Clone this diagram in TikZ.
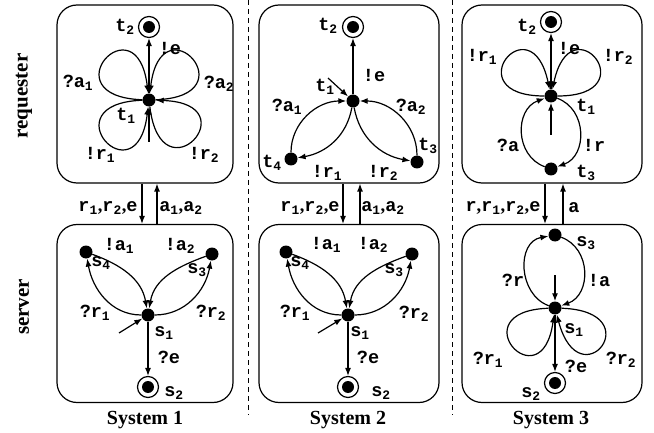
\documentclass[tikz,border=0pt]{standalone}
\usepackage{fontspec}
\setmainfont{Liberation Serif}
\setmonofont{Liberation Mono}
\usetikzlibrary{arrows.meta}
\newcommand{\lsub}[1]{\textsubscript{#1}}
\newcommand{\cm}{{\rmfamily,}}
\tikzset{state/.style={circle,fill=black,inner sep=0pt,minimum size=13pt},
  final/.style={circle,draw=black,line width=1.2pt,fill=white,inner sep=0pt,minimum size=21pt,
    path picture={\fill[black] (path picture bounding box.center) circle (6pt);}},
  box/.style={draw=black,line width=1.2pt,rounded corners=20pt,inner sep=0pt,minimum height=178pt},
  trans/.style={-{Latex[length=8pt,width=6pt]},line width=1.2pt},
  lbl/.style={font=\fontsize{18.5}{21}\selectfont\ttfamily\bfseries,inner sep=0pt},
  title/.style={font=\fontsize{20}{23}\selectfont\bfseries,inner sep=0pt},
  sep/.style={dash pattern=on 5pt off 4pt,line width=0.9pt}}

\begin{document}
\begin{tikzpicture}[x=1pt,y=1pt]
  \useasboundingbox (0,0) rectangle (654,432);
  % frames
  \node[box,minimum width=176pt] (req1) at (145,338) {};
  \node[box,minimum width=176pt] (srv1) at (145,118.5) {};
  \node[box,minimum width=180pt] (req2) at (349,338) {};
  \node[box,minimum width=180pt] (srv2) at (349,118.5) {};
  \node[box,minimum width=180pt] (req3) at (552,338) {};
  \node[box,minimum width=180pt] (srv3) at (552,118.5) {};
  \draw[sep] (248,432) -- (248,17);
  \draw[sep] (452,432) -- (452,17);
  \node[title,rotate=90,font=\fontsize{21}{24}\selectfont\bfseries] (reqname) at (24,336) {requester};
  \node[title,rotate=90,font=\fontsize{21}{24}\selectfont\bfseries] (srvname) at (24,125) {server};
  \node[title] (sys1) at (145,12) {System 1};
  \node[title] (sys2) at (348,12) {System 2};
  \node[title] (sys3) at (551,12) {System 3};

  % channels
  \draw[trans] ([xshift=-3pt]req1.south) -- ([xshift=-3pt]srv1.north);
  \draw[trans] ([xshift=12pt]srv1.north) -- ([xshift=12pt]req1.south);
  \node[lbl] (ch1a) at (108,224) {r\lsub{1}\cm r\lsub{2}\cm e};
  \node[lbl] (ch1b) at (181,224) {a\lsub{1}\cm a\lsub{2}};
  \draw[trans] ([xshift=-6pt]req2.south) -- ([xshift=-6pt]srv2.north);
  \draw[trans] ([xshift=11pt]srv2.north) -- ([xshift=11pt]req2.south);
  \node[lbl] (ch2a) at (310,224) {r\lsub{1}\cm r\lsub{2}\cm e};
  \node[lbl] (ch2b) at (383,224) {a\lsub{1}\cm a\lsub{2}};
  \draw[trans] ([xshift=-7pt]req3.south) -- ([xshift=-7pt]srv3.north);
  \draw[trans] ([xshift=11pt]srv3.north) -- ([xshift=11pt]req3.south);
  \node[lbl] (ch3a) at (503,224) {r\cm r\lsub{1}\cm r\lsub{2}\cm e};
  \node[lbl] (ch3b) at (574,224) {a};

  % System 1, requester
  \node[state] (t1a) at (149,332) {};
  \node[final] (t2a) at (149,405) {};
  \coordinate (i1a) at (149,290);
  \node[lbl] (nt1a) at (126,316) {t\lsub{1}};
  \node[lbl] (nt2a) at (125,405) {t\lsub{2}};
  \node[lbl] (ea) at (170,384) {!e};
  \node[lbl] (qa1a) at (78,349) {?a\lsub{1}};
  \node[lbl] (qa2a) at (219,348) {?a\lsub{2}};
  \node[lbl] (er1a) at (100,277) {!r\lsub{1}};
  \node[lbl] (er2a) at (204,277) {!r\lsub{2}};
  \draw[trans] (t1a) -- (t2a);
  \draw[trans] (i1a) -- (t1a);
  \draw[trans] (t1a) to[out=178,in=97,min distance=95pt] (t1a);
  \draw[trans] (t1a) to[out=2,in=83,min distance=95pt] (t1a);
  \draw[trans] (t1a) to[out=182,in=263,min distance=95pt] (t1a);
  \draw[trans] (t1a) to[out=277,in=358,min distance=95pt] (t1a);

  % System 1, server
  \node[state] (s1a) at (148,117) {};
  \node[final] (s2a) at (148,45) {};
  \node[state] (s3a) at (212,178) {};
  \node[state] (s4a) at (86,180) {};
  \coordinate (j1a) at (119,99);
  \node[lbl] (ns1a) at (164,99) {s\lsub{1}};
  \node[lbl] (ns2a) at (174,39) {s\lsub{2}};
  \node[lbl] (ns3a) at (197,162) {s\lsub{3}};
  \node[lbl] (ns4a) at (101,169) {s\lsub{4}};
  \node[lbl] (ra1a) at (119,186) {!a\lsub{1}};
  \node[lbl] (ra2a) at (180,186) {!a\lsub{2}};
  \node[lbl] (qr1a) at (95,119) {?r\lsub{1}};
  \node[lbl] (qr2a) at (211,119) {?r\lsub{2}};
  \node[lbl] (qea) at (169,75) {?e};
  \draw[trans] (j1a) -- (s1a);
  \draw[trans] (s1a) -- (s2a);
  \draw[trans] (s1a) to[out=180,in=280] (s4a);
  \draw[trans] (s4a) to[out=-20,in=100] (s1a);
  \draw[trans] (s1a) to[out=0,in=260] (s3a);
  \draw[trans] (s3a) to[out=200,in=80] (s1a);

  % System 2, requester
  \node[state] (t1b) at (353,331) {};
  \node[final] (t2b) at (353,405) {};
  \node[state] (t3b) at (417,270) {};
  \node[state] (t4b) at (291,273) {};
  \coordinate (i1b) at (328,354);
  \node[lbl] (nt1b) at (325,345) {t\lsub{1}};
  \node[lbl] (nt2b) at (328,406) {t\lsub{2}};
  \node[lbl] (nt3b) at (428,286) {t\lsub{3}};
  \node[lbl] (nt4b) at (272,269) {t\lsub{4}};
  \node[lbl] (eb) at (374,357) {!e};
  \node[lbl] (qa1b) at (287,325) {?a\lsub{1}};
  \node[lbl] (qa2b) at (411,325) {?a\lsub{2}};
  \node[lbl] (er1b) at (327,259) {!r\lsub{1}};
  \node[lbl] (er2b) at (383,259) {!r\lsub{2}};
  \draw[trans] (t1b) -- (t2b);
  \draw[trans] (i1b) -- (t1b);
  \draw[trans] (t1b) to[out=260,in=10] (t4b);
  \draw[trans] (t4b) to[out=90,in=180] (t1b);
  \draw[trans] (t1b) to[out=280,in=170] (t3b);
  \draw[trans] (t3b) to[out=90,in=0] (t1b);

  % System 2, server
  \node[state] (s1b) at (348,117) {};
  \node[final] (s2b) at (348,45) {};
  \node[state] (s3b) at (412,178) {};
  \node[state] (s4b) at (286,180) {};
  \coordinate (j1b) at (318,99);
  \node[lbl] (ns1b) at (360,99) {s\lsub{1}};
  \node[lbl] (ns2b) at (381,39) {s\lsub{2}};
  \node[lbl] (ns3b) at (394,162) {s\lsub{3}};
  \node[lbl] (ns4b) at (300,169) {s\lsub{4}};
  \node[lbl] (ra1b) at (326,187) {!a\lsub{1}};
  \node[lbl] (ra2b) at (373,187) {!a\lsub{2}};
  \node[lbl] (qr1b) at (295,119) {?r\lsub{1}};
  \node[lbl] (qr2b) at (414,118) {?r\lsub{2}};
  \node[lbl] (qeb) at (368,75) {?e};
  \draw[trans] (j1b) -- (s1b);
  \draw[trans] (s1b) -- (s2b);
  \draw[trans] (s1b) to[out=180,in=280] (s4b);
  \draw[trans] (s4b) to[out=-20,in=100] (s1b);
  \draw[trans] (s1b) to[out=0,in=260] (s3b);
  \draw[trans] (s3b) to[out=200,in=80] (s1b);

  % System 3, requester
  \node[state] (t1c) at (551,336) {};
  \node[final] (t2c) at (551,410) {};
  \node[state] (t3c) at (551,263) {};
  \coordinate (i1c) at (551,297);
  \node[lbl] (nt1c) at (586,325) {t\lsub{1}};
  \node[lbl] (nt2c) at (527,405) {t\lsub{2}};
  \node[lbl] (nt3c) at (586,259) {t\lsub{3}};
  \node[lbl] (ec) at (569,384) {!e};
  \node[lbl] (er1c) at (482,375) {!r\lsub{1}};
  \node[lbl] (er2c) at (618,375) {!r\lsub{2}};
  \node[lbl] (qac) at (508,287) {?a};
  \node[lbl] (erc) at (594,287) {!r};
  \draw[trans] (t1c) -- (t2c);
  \draw[trans] (i1c) -- (t1c);
  \draw[trans] (t1c) to[out=180,in=102,min distance=90pt] (t1c);
  \draw[trans] (t1c) to[out=0,in=78,min distance=90pt] (t1c);
  \draw[trans] (t1c) to[out=340,in=20,looseness=1.2] (t3c);
  \draw[trans] (t3c) to[out=160,in=200,looseness=1.2] (t1c);

  % System 3, server
  \node[state] (s1c) at (555,124) {};
  \node[final] (s2c) at (555,49) {};
  \node[state] (s3c) at (555,197) {};
  \coordinate (j1c) at (555,157);
  \node[lbl] (ns1c) at (574,102) {s\lsub{1}};
  \node[lbl] (ns2c) at (531,38) {s\lsub{2}};
  \node[lbl] (ns3c) at (586,189) {s\lsub{3}};
  \node[lbl] (qrc) at (513,152) {?r};
  \node[lbl] (rac) at (599,152) {!a};
  \node[lbl] (qr1c) at (488,72) {?r\lsub{1}};
  \node[lbl] (qr2c) at (621,72) {?r\lsub{2}};
  \node[lbl] (qec) at (576,66) {?e};
  \draw[trans] (j1c) -- (s1c);
  \draw[trans] (s1c) -- (s2c);
  \draw[trans] (s1c) to[out=160,in=190,looseness=1.2] (s3c);
  \draw[trans] (s3c) to[out=340,in=20,looseness=1.2] (s1c);
  \draw[trans] (s1c) to[out=182,in=262,min distance=90pt] (s1c);
  \draw[trans] (s1c) to[out=358,in=285,min distance=90pt] (s1c);
\end{tikzpicture}
\end{document}
